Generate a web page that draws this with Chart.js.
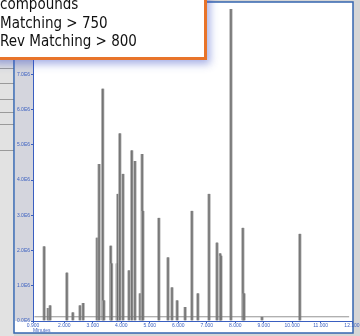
<!DOCTYPE html>
<html>
<head>
<meta charset="utf-8">
<script src="https://cdn.jsdelivr.net/npm/chart.js@4/dist/chart.umd.min.js"></script>
<style>
  html, body { margin: 0; padding: 0; background: #d6d6d6; overflow: hidden; }
  #wrap { position: relative; width: 360px; height: 336px; }
  #note {
    position: absolute; left: -10px; top: -10px; width: 217px; height: 70px;
    box-sizing: border-box; background: #fff; border: 3px solid #e8742a;
    box-shadow: 3px 4px 8px rgba(60, 80, 200, 0.45);
    padding: 2px 0 0 7px;
    font: 15px/18.5px "Liberation Sans Narrow", "DejaVu Sans Condensed", sans-serif;
    color: #111;
  }
</style>
</head>
<body>
<div id="wrap">
  <canvas id="chart" width="360" height="336"></canvas>
  <div id="note">compounds<br>Matching &gt; 750<br>Rev Matching &gt; 800</div>
</div>
<script>
// retention time (min) and intensity (x1E6) of each peak
var peakTimes = [1.29, 1.43, 1.50, 2.09, 2.30, 2.55, 2.66, 3.15, 3.22, 3.35, 3.39, 3.63, 3.66,
                 3.85, 3.88, 3.95, 4.06, 4.27, 4.37, 4.48, 4.66, 4.73, 4.76, 5.32, 5.64, 5.78,
                 5.96, 6.24, 6.48, 6.69, 7.08, 7.36, 7.47, 7.50, 7.85, 8.27, 8.31, 8.94, 10.27];
var peakHeights = [2.12, 0.37, 0.45, 1.38, 0.25, 0.45, 0.51, 2.37, 4.46, 6.60, 0.59, 2.14, 1.64,
                   1.64, 3.61, 5.33, 4.18, 1.44, 4.85, 4.54, 0.79, 4.74, 3.13, 2.93, 1.81, 0.96,
                   0.59, 0.40, 3.13, 0.79, 3.61, 2.23, 1.92, 1.86, 8.86, 2.65, 0.79, 0.12, 2.48];
var baselineTimes = [0.95, 12.0];
var baselineLevel = [0.12, 0.12];

var blue = '#3a5fc0';

var peaks = peakTimes.map(function(t, i) { return { x: t, y: peakHeights[i] }; });
var base = baselineTimes.map(function(t, i) { return { x: t, y: baselineLevel[i] }; });

var backdrop = {
  id: 'backdrop',
  beforeDraw: function(chart) {
    var c = chart.ctx, a = chart.chartArea;
    c.save();
    c.fillStyle = '#d6d6d6';
    c.fillRect(0, 0, 360, 336);
    // left window strip
    c.fillStyle = '#e2e2e2';
    c.fillRect(0, 58, 14, 278);
    c.strokeStyle = '#9a9a9a';
    [68, 83, 99, 112, 124, 150].forEach(function(y) {
      c.beginPath(); c.moveTo(0, y + 0.5); c.lineTo(14, y + 0.5); c.stroke();
    });
    // plot frame
    c.fillStyle = '#ffffff';
    c.fillRect(14, 2, 339, 331);
    c.fillStyle = '#d4d5dd';
    c.fillRect(15, 2, a.left - 15, a.bottom - 2);
    c.strokeStyle = '#3566b0';
    c.lineWidth = 1.5;
    c.strokeRect(14, 2, 339, 331);
    c.restore();
  }
};

new Chart(document.getElementById('chart'), {
  type: 'bar',
  data: {
    datasets: [{
      type: 'line',
      data: base,
      borderColor: 'rgba(120,120,120,0.8)',
      borderWidth: 1,
      pointRadius: 0
    }, {
      data: peaks,
      backgroundColor: 'rgba(100,100,100,0.85)',
      borderColor: 'rgba(175,175,175,0.9)',
      borderWidth: { left: 1, right: 1 },
      barThickness: 3,
      grouped: false
    }]
  },
  plugins: [backdrop],
  options: {
    responsive: false,
    animation: false,
    layout: { padding: { left: 14, right: 8, top: 0, bottom: 2 } },
    plugins: { legend: { display: false }, tooltip: { enabled: false } },
    scales: {
      x: {
        type: 'linear', min: 0.9, max: 12.1, offset: false,
        ticks: { stepSize: 1, color: blue, font: { size: 5 }, padding: 0,
                 callback: function(v) { return v.toFixed(3); } },
        grid: { drawOnChartArea: false, tickLength: 2, color: blue, offset: false },
        border: { color: blue },
        title: { display: true, text: 'Minutes', align: 'start', color: blue,
                 font: { size: 5 }, padding: 0 },
        afterFit: function(s) { s.height = 13; }
      },
      y: {
        min: 0, max: 9,
        ticks: { stepSize: 1, color: blue, font: { size: 5 }, padding: 1,
                 callback: function(v) { return v.toFixed(1) + 'E6'; } },
        grid: { drawOnChartArea: false, tickLength: 2, color: blue },
        border: { color: blue },
        afterFit: function(s) { s.width = 19; }
      }
    }
  }
});
</script>
</body>
</html>
